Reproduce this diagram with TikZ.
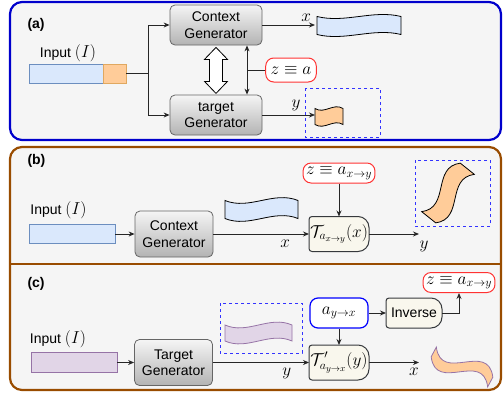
\documentclass[tikz,border=0pt]{standalone}
\usepackage{fontspec}
\setmainfont{Liberation Sans}
\usetikzlibrary{arrows.meta,positioning,calc}
\DeclareMathSizes{14}{16.5}{12}{9}
\definecolor{panelFill}{HTML}{F5F5F5}
\definecolor{panelBlue}{HTML}{0000CC}
\definecolor{panelBrown}{HTML}{994C00}
\definecolor{boxLine}{HTML}{666666}
\definecolor{boxDark}{HTML}{B3B3B3}
\definecolor{opFill}{HTML}{F9F7ED}
\definecolor{opLine}{HTML}{36393D}
\definecolor{seqBlue}{HTML}{DAE8FC}
\definecolor{seqBlueLine}{HTML}{6C8EBF}
\definecolor{seqOrange}{HTML}{FFCC99}
\definecolor{seqOrangeLine}{HTML}{E0A860}
\definecolor{seqPurple}{HTML}{E1D5E7}
\definecolor{seqPurpleLine}{HTML}{9673A6}
\definecolor{zRed}{HTML}{FF3333}
\definecolor{dashBlue}{HTML}{3333FF}

\pgfdeclarelayer{panel}
\pgfdeclarelayer{opshape}
\pgfsetlayers{panel,opshape,main}

% outline of an operator node: flat left side, round right side
\newcommand{\opframe}[1]{%
  \begin{pgfonlayer}{opshape}
    \draw[opLine,fill=opFill,line width=1pt] (#1.west) [rounded corners=3pt] -- (#1.north west) -- (#1.north)
      [rounded corners=11pt] -- (#1.north east) -- (#1.south east) -- (#1.south)
      [rounded corners=3pt] -- (#1.south west) -- cycle;
  \end{pgfonlayer}}
% wavy strip: style, centre, width, height, wave, angle
\newcommand{\tapeshape}[6]{%
  \begin{scope}[shift={#2},rotate=#6]
    \draw[#1] (-#3/2,-#4/2) .. controls (-#3/6,-#4/2+#5) and (#3/6,-#4/2-#5) .. (#3/2,-#4/2)
      -- (#3/2,#4/2) .. controls (#3/6,#4/2-#5) and (-#3/6,#4/2+#5) .. (-#3/2,#4/2) -- cycle;
  \end{scope}}

\begin{document}
\begin{tikzpicture}[x=1pt,y=-1pt,font=\fontsize{14}{16.5}\selectfont,>={Stealth[length=6pt,width=5pt]}]
  \tikzset{gen/.style={draw=boxLine,line width=0.8pt,rounded corners=5pt,top color=panelFill,bottom color=boxDark,align=center,minimum width=78pt,minimum height=46pt,inner sep=1pt},
    op/.style={minimum width=60pt,minimum height=35pt,inner sep=1pt,outer sep=0pt},
    zbox/.style={draw=zRed,line width=1pt,fill=white,rounded corners=8pt,inner xsep=3pt,inner ysep=1pt,minimum height=20pt},
    abox/.style={draw=blue,line width=1.2pt,fill=white,rounded corners=8pt,minimum width=58pt,minimum height=30pt},
    seq/.style={minimum height=19pt,inner sep=0pt,outer sep=0pt,line width=0.8pt},
    tag/.style={font=\fontsize{14}{16}\selectfont\bfseries,anchor=west},
    link/.style={draw=black!85,line width=0.9pt},
    dbox/.style={draw=dashBlue,dashed,line width=1pt}}
  \useasboundingbox (0,0) rectangle (504,394);
  \begin{pgfonlayer}{panel}
    \draw[panelBlue,line width=2.2pt,fill=panelFill,rounded corners=12pt] (10,2) rectangle (501,140);
    \draw[panelBrown,line width=2.2pt,fill=panelFill,rounded corners=12pt] (10,147) rectangle (501,390);
    \draw[panelBrown,line width=2.2pt] (10,264) -- (501,264);
  \end{pgfonlayer}

  % (a)
  \node[tag] (tagA) at (24,25) {(a)};
  \node (inA) at (68,53) {Input $(I)$};
  \node[seq,fill=seqBlue,draw=seqBlueLine,minimum width=74pt] (barA) at (66,73.5) {};
  \node[seq,fill=seqOrange,draw=seqOrangeLine,minimum width=23pt,right=0pt of barA] (barA2) {};
  \node[gen,minimum width=92pt,minimum height=40pt] (ctxA) at (216,25) {Context\\Generator};
  \node[gen,minimum width=92pt,minimum height=40pt] (tgtA) at (216,115) {target\\Generator};
  \coordinate (jA) at (148,73.5);
  \draw[link] (barA2.east) -- (jA);
  \draw[link,->] (jA) |- (ctxA.west);
  \draw[link,->] (jA) |- (tgtA.west);
  \draw[fill=white,line width=0.8pt] ([yshift=-2pt]ctxA.south) -- ++(11.5,12) -- ++(-5,0) -- ++(0,22) -- ++(5,0)
    -- ++(-11.5,12) -- ++(-11.5,-12) -- ++(5,0) -- ++(0,-22) -- ++(-5,0) -- cycle;
  \coordinate (dlT) at ([xshift=31pt]ctxA.south);
  \coordinate (dlB) at ([xshift=31pt]tgtA.north);
  \draw[link,<->] (dlT) -- (dlB);
  \node[zbox,minimum height=24pt,inner xsep=5pt] (zA) at (291,70) {$z\equiv a$};
  \draw[link] (zA.west) -- (zA.west -| dlT);
  \coordinate (xA) at (315,25);
  \draw[link,->] (ctxA.east) -- (xA) node[pos=0.83,above=0pt] {$x$};
  \tapeshape{draw=black,fill=seqBlue,line width=0.8pt}{(359,25.5)}{84}{18}{7}{0}
  \draw[dbox] (305,88) rectangle (380,137);
  \coordinate (yA) at (315,115);
  \draw[link,->] (tgtA.east) -- (yA) node[pos=0.64,above=0pt] {$y$};
  \tapeshape{draw=black,fill=seqOrange,line width=0.8pt}{(329,116.5)}{28}{16}{6}{0}

  % (b)
  \node[tag] (tagB) at (24,161) {(b)};
  \node (inB) at (58.5,210) {Input $(I)$};
  \node[seq,fill=seqBlue,draw=seqBlueLine,minimum width=86pt] (barB) at (72,234) {};
  \node[gen] (ctxB) at (174,234) {Context\\Generator};
  \draw[link,->] (barB) -- (ctxB);
  \tapeshape{draw=black,fill=seqBlue,line width=0.8pt}{(261.5,209.5)}{73}{18}{10}{0}
  \node[op] (opB) at (339,234) {$\mathcal{T}_{a_{x\to y}}(x)$};
  \opframe{opB}
  \draw[link,->] (ctxB) -- node[pos=0.75,below=2pt] {$x$} (opB);
  \node[zbox] (zB) at (339,173) {$z\equiv a_{x\to y}$};
  \draw[link,->] (zB) -- (opB);
  \coordinate (yB) at (419,234);
  \draw[link,->] (opB) -- (yB) node[below=3pt,xshift=5pt] {$y$};
  \draw[dbox] (415,160) rectangle (490,226);
  \tapeshape{draw=black,fill=seqOrange,line width=0.8pt}{(448,193)}{62}{18}{20}{51.5}

  % (c)
  \node[tag] (tagC) at (24,284) {(c)};
  \node (inC) at (58,339) {Input $(I)$};
  \node[seq,fill=seqPurple,draw=seqPurpleLine,minimum width=86pt,minimum height=20pt] (barC) at (74,362.5) {};
  \node[gen] (tgtC) at (173.5,362.5) {Target\\Generator};
  \draw[link,->] (barC) -- (tgtC);
  \draw[dbox] (220,303) rectangle (302,353);
  \tapeshape{draw=seqPurpleLine,fill=seqPurple,line width=0.8pt}{(258.5,333)}{67}{16}{10}{0}
  \node[abox] (aC) at (339,313) {$a_{y\to x}$};
  \node[op] (opC) at (339,362.5) {$\mathcal{T}'_{a_{y\to x}}(y)$};
  \opframe{opC}
  \draw[link,->] (tgtC) -- node[pos=0.77,below=2pt] {$y$} (opC);
  \draw[link,->] (aC) -- (opC);
  \node[op,minimum width=56pt,minimum height=30pt] (invC) at (414,313) {Inverse};
  \opframe{invC}
  \draw[link,->] (aC) -- (invC);
  \node[zbox] (zC) at (459,282.5) {$z\equiv a_{x\to y}$};
  \draw[link,->] (invC.east) -| (zC.south);
  \coordinate (xC) at (419,362.5);
  \draw[link,->] (opC) -- (xC) node[pos=0.9,below=2pt] {$x$};
  \tapeshape{draw=seqPurpleLine,fill=seqOrange,line width=0.8pt}{(462,367)}{64}{11}{30}{-28}
\end{tikzpicture}
\end{document}
